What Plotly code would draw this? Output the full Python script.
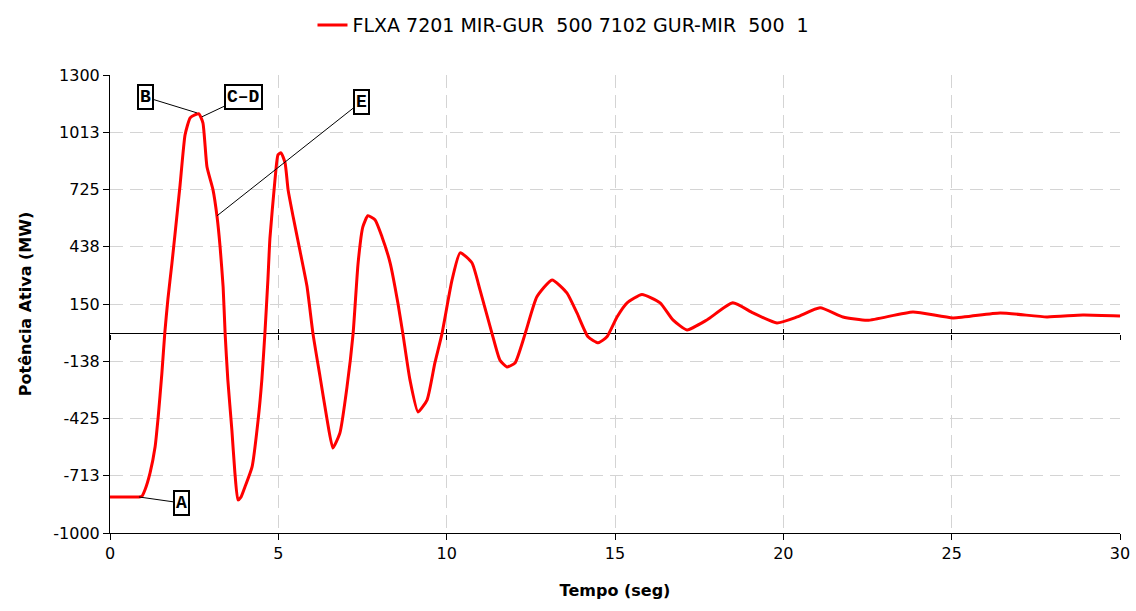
import plotly.graph_objects as go

# Time (s) and active power (MW)
tempo = [0.0, 0.86, 0.95, 1.04, 1.19, 1.34, 1.43, 1.54, 1.63, 1.72, 1.84, 1.93, 2.08, 2.23,
         2.38, 2.52, 2.64, 2.76, 2.88, 3.06, 3.18, 3.27, 3.36, 3.42, 3.50, 3.62, 3.71, 3.80,
         3.89, 4.01, 4.22, 4.40, 4.51, 4.60, 4.69, 4.75, 4.90, 4.99, 5.08, 5.20, 5.29, 5.44,
         5.64, 5.85, 6.03, 6.24, 6.45, 6.62, 6.83, 7.04, 7.22, 7.37, 7.51, 7.66, 7.87, 8.08,
         8.32, 8.55, 8.70, 8.91, 9.15, 9.42, 9.65, 9.86, 10.16, 10.40, 10.75, 10.99, 11.35,
         11.58, 11.79, 12.03, 12.33, 12.68, 13.13, 13.57, 13.87, 14.20, 14.50, 14.76, 15.06,
         15.36, 15.80, 16.34, 16.72, 17.14, 17.73, 18.50, 19.10, 19.81, 20.41, 21.09, 21.77,
         22.50, 23.85, 25.04, 26.44, 27.83, 28.90, 30.0]
potencia = [-819, -819, -815, -783, -698, -567, -420, -200, 10, 175, 355, 500, 745, 1000,
            1085, 1100, 1105, 1060, 839, 723, 588, 437, 236, 0, -231, -482, -698, -834,
            -820, -768, -668, -432, -231, 0, 271, 480, 773, 899, 909, 859, 723, 588,
            420, 240, 0, -216, -432, -573, -497, -266, 0, 357, 537, 593, 573, 487,
            357, 156, 0, -231, -392, -331, -146, 0, 271, 407, 357, 221, 0,
            -131, -166, -146, 0, 186, 271, 206, 105, -15, -45, -15, 85,
            156, 198, 156, 70, 20, 70, 156, 105, 55, 85, 131, 85,
            68, 110, 80, 105, 85, 95, 90]

y_tick_vals = [-1000, -712.5, -425, -137.5, 150, 437.5, 725, 1012.5, 1300]
y_tick_text = ["-1000", "-713", "-425", "-138", "150", "438", "725", "1013", "1300"]
x_tick_vals = [0, 5, 10, 15, 20, 25, 30]

# annotation labels: text, tip (t, MW), box (t, MW)
ann_text = ["A", "B", "C\u2013D", "E"]
ann_tip_t = [0.86, 2.58, 2.73, 3.18]
ann_tip_v = [-819, 1110, 1090, 593]
ann_box_t = [2.11, 1.04, 3.98, 7.46]
ann_box_v = [-849, 1190, 1190, 1165]

serie = "FLXA 7201 MIR-GUR  500 7102 GUR-MIR  500  1".replace(" ", "\u00a0")

FONT = "DejaVu Sans"

fig = go.Figure()
fig.add_trace(go.Scatter(
    x=tempo, y=potencia, mode="lines", name=serie,
    line=dict(color="#ff0000", width=3, shape="spline", smoothing=0.5),
))
# invisible helper traces so the zero-line tick axes are drawn
for ax in ["x2", "x3"]:
    fig.add_trace(go.Scatter(x=tempo, y=potencia, xaxis=ax, mode="lines",
                             line=dict(width=0), showlegend=False, hoverinfo="skip",
                             opacity=0))

zero_pos = (0 - y_tick_vals[0]) / (y_tick_vals[-1] - y_tick_vals[0])

for t, tt, tv, bt, bv in zip(ann_text, ann_tip_t, ann_tip_v, ann_box_t, ann_box_v):
    fig.add_annotation(
        x=tt, y=tv, ax=bt, ay=bv, axref="x", ayref="y", xref="x", yref="y",
        text=t, showarrow=True, arrowhead=0, arrowwidth=1, arrowcolor="#000000",
        font=dict(family="Liberation Mono", size=18, color="#000000", weight="bold"),
        bordercolor="#000000", borderwidth=2, borderpad=1, bgcolor="#ffffff",
        standoff=0, startstandoff=0,
    )

fig.update_layout(
    width=1136, height=611,
    margin=dict(l=110, r=16, t=75, b=78, autoexpand=False),
    paper_bgcolor="#ffffff", plot_bgcolor="#ffffff",
    font=dict(family=FONT, size=16, color="#000000"),
    showlegend=True,
    legend=dict(orientation="h", x=0.449, xanchor="center", y=1.109, yanchor="middle",
                font=dict(size=19), itemwidth=30, bgcolor="rgba(0,0,0,0)"),
    xaxis=dict(range=[0, 30], tickvals=x_tick_vals, showline=True, linecolor="#000000",
               linewidth=1, ticks="outside", ticklen=6, tickcolor="#000000",
               showgrid=True, gridcolor="#d4d4d4", griddash="13px,7px", gridwidth=1,
               zeroline=False, mirror=False,
               title=dict(text="<b>Tempo (seg)</b>", font=dict(size=16), standoff=22)),
    xaxis2=dict(range=[0, 30], tickvals=x_tick_vals, overlaying="x", anchor="free",
                position=zero_pos, showline=False, ticks="outside", ticklen=5,
                tickcolor="#000000", showticklabels=False, showgrid=False, zeroline=False),
    xaxis3=dict(range=[0, 30], tickvals=x_tick_vals, overlaying="x", anchor="free",
                position=zero_pos, showline=False, ticks="inside", ticklen=5,
                tickcolor="#000000", showticklabels=False, showgrid=False, zeroline=False),
    yaxis=dict(range=[-1000, 1300], tickvals=y_tick_vals, ticktext=y_tick_text,
               showline=True, linecolor="#000000", linewidth=1, ticks="outside",
               ticklen=6, tickcolor="#000000", showgrid=True, gridcolor="#d4d4d4",
               griddash="13px,7px", gridwidth=1, zeroline=True, zerolinecolor="#000000",
               zerolinewidth=1,
               title=dict(text="<b>Potência Ativa (MW)</b>", font=dict(size=16), standoff=17)),
)

fig.write_html("out.html")
